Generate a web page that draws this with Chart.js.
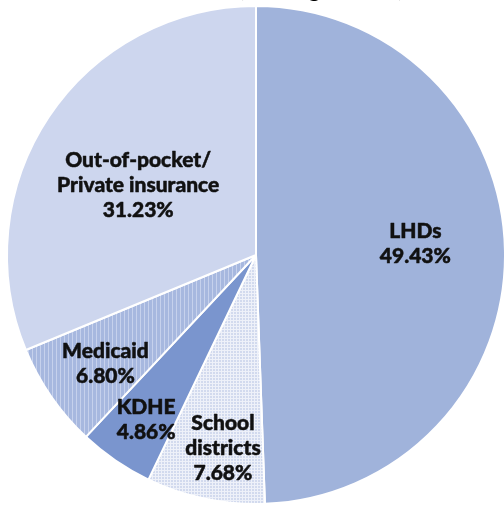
<!DOCTYPE html>
<html>
<head>
<meta charset="utf-8">
<script src="https://cdn.jsdelivr.net/npm/chart.js@4"></script>
<style>
  html, body { margin: 0; padding: 0; background: #ffffff; }
  #wrap { width: 504px; height: 506px; }
</style>
</head>
<body>
<div id="wrap"><canvas id="c" width="504" height="506"></canvas></div>
<script>
// ---- data ----
const categories = ['LHDs', 'School districts', 'KDHE', 'Medicaid', 'Out-of-pocket/Private insurance'];
const labelLines = [['LHDs'], ['School', 'districts'], ['KDHE'], ['Medicaid'], ['Out-of-pocket/', 'Private insurance']];
const shares = [49.43, 7.68, 4.86, 6.80, 31.23];
const titlePrefix = 'Immunization Costs';
const titleParen = '(Funding Sources)';

const canvas = document.getElementById('c');
const ctx = canvas.getContext('2d');

function stripePattern() {
  const t = document.createElement('canvas');
  t.width = 4; t.height = 4;
  const g = t.getContext('2d');
  g.fillStyle = '#A7B8DF'; g.fillRect(0, 0, 4, 4);
  g.fillStyle = '#C6D1EC'; g.fillRect(0, 0, 1, 4);
  return ctx.createPattern(t, 'repeat');
}
function dotPattern() {
  const t = document.createElement('canvas');
  t.width = 3; t.height = 3;
  const g = t.getContext('2d');
  g.fillStyle = '#EEF1F9'; g.fillRect(0, 0, 3, 3);
  g.fillStyle = '#D2DAEE'; g.fillRect(0, 0, 2, 2);
  return ctx.createPattern(t, 'repeat');
}

const fills = ['#A0B3DB', dotPattern(), '#7A95CE', stripePattern(), '#CDD6EE'];

// label placement (radial fraction along slice bisector + small nudge)
const labelPlace = [
  { f: 0.64, dx: 0, dy: -9 },
  { f: 0.788, dx: 7, dy: 1 },
  { f: 0.796, dx: 2, dy: 1 },
  { f: 0.745, dx: 2, dy: 3 },
  { f: 0.55, dx: -4, dy: 6 }
];

const sliceLabels = {
  id: 'sliceLabels',
  afterDatasetsDraw(chart) {
    const meta = chart.getDatasetMeta(0);
    const c = chart.ctx;
    c.save();
    c.font = '900 21px Lato, "Open Sans", sans-serif';
    c.fillStyle = '#111111';
    c.strokeStyle = '#111111';
    c.lineWidth = 0.5;
    c.lineJoin = 'round';
    c.textAlign = 'center';
    c.textBaseline = 'alphabetic';
    const lh = 25, capH = 14;
    meta.data.forEach((arc, i) => {
      const p = arc.getProps(['x', 'y', 'startAngle', 'endAngle', 'outerRadius'], true);
      const mid = (p.startAngle + p.endAngle) / 2;
      const r = p.outerRadius * labelPlace[i].f;
      const cx = p.x + Math.cos(mid) * r + labelPlace[i].dx;
      const cy = p.y + Math.sin(mid) * r + labelPlace[i].dy;
      const lines = labelLines[i].concat([chart.data.datasets[0].data[i].toFixed(2) + '%']);
      const n = lines.length;
      const y0 = cy + capH / 2 - (n - 1) * lh / 2;
      lines.forEach((t, k) => {
        c.fillText(t, cx, y0 + k * lh);
        c.strokeText(t, cx, y0 + k * lh);
      });
    });
    c.restore();
  }
};

const topTitle = {
  id: 'topTitle',
  afterDraw(chart) {
    const c = chart.ctx;
    c.save();
    c.font = 'bold 21px Lato, "Open Sans", sans-serif';
    c.fillStyle = '#000000';
    c.textBaseline = 'alphabetic';
    c.textAlign = 'left';
    c.fillText(titleParen, 239, -3);
    c.textAlign = 'right';
    c.fillText(titlePrefix, 233, -3);
    c.restore();
  }
};

new Chart(canvas, {
  type: 'pie',
  data: {
    labels: categories,
    datasets: [{
      data: shares,
      backgroundColor: fills,
      borderColor: '#ffffff',
      borderWidth: 2,
      hoverOffset: 0
    }]
  },
  options: {
    responsive: false,
    animation: false,
    radius: 249,
    layout: { padding: { left: 8, right: -2, top: 6, bottom: 2 } },
    plugins: {
      legend: { display: false },
      tooltip: { enabled: false },
      title: { display: false }
    }
  },
  plugins: [sliceLabels, topTitle]
});
</script>
</body>
</html>
